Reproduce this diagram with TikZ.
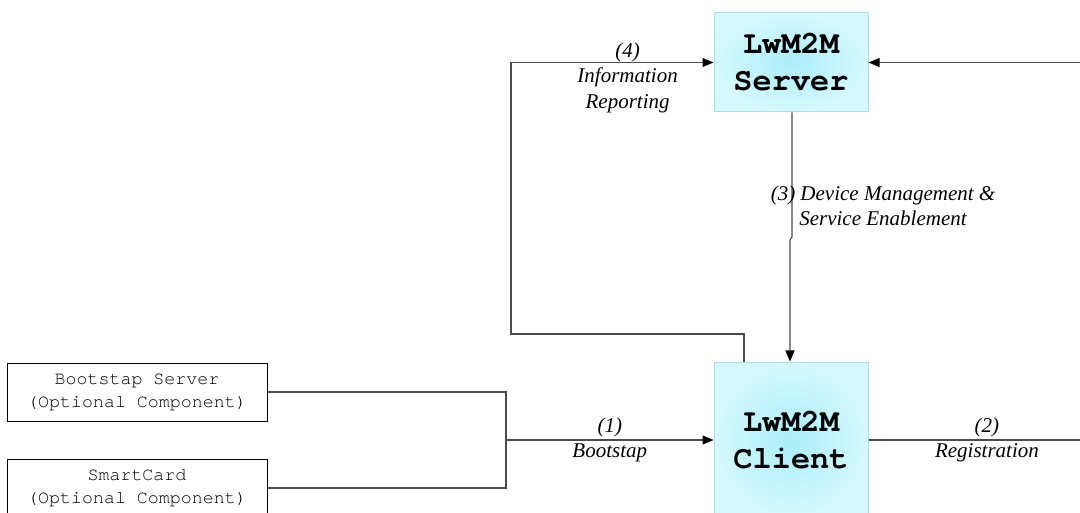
\documentclass[tikz,border=0pt]{standalone}
\usepackage{fontspec}
\setmainfont{Liberation Serif}
\setmonofont{TeX Gyre Cursor}
\usetikzlibrary{arrows.meta,calc}
\definecolor{boxin}{RGB}{170,238,250}
\definecolor{boxout}{RGB}{214,249,255}
\definecolor{boxline}{RGB}{165,225,240}
\definecolor{wirec}{RGB}{75,75,75}
\begin{document}
\begin{tikzpicture}[x=1pt,y=-1pt,
  lwbox/.style={draw=boxline, line width=1pt, inner color=boxin, outer color=boxout,
    minimum width=154pt, minimum height=99pt, inner sep=0pt,
    font=\fontsize{32}{37}\selectfont\ttfamily\bfseries, align=center},
  optbox/.style={draw=black, line width=1pt, fill=white, minimum width=260pt,
    minimum height=58pt, inner sep=0pt,
    font=\fontsize{18.3}{23}\selectfont\ttfamily, align=center},
  wire/.style={draw=wirec, line width=1.1pt},
  arr/.style={wire, -{Triangle[length=11pt,width=9pt,color=black]}},
  lbl/.style={font=\fontsize{21}{25.5}\selectfont\itshape, align=center, inner sep=0pt},
]
\path[use as bounding box] (0,0) rectangle (1080,513);
\clip (0,0) rectangle (1080,513);

\node[lwbox] (server) at (791,62.5) {LwM2M\\Server};
\node[lwbox, minimum height=156pt] (client) at (791,440) {LwM2M\\Client};
\node[optbox] (boot) at (137,392) {Bootstap Server\\(Optional Component)};
\node[optbox] (card) at (137,488) {SmartCard\\(Optional Component)};

\coordinate (join) at (506,440);
\coordinate (regend) at (1080,440);
\coordinate (srvin) at (1080,62.5);
\coordinate (lpA) at (744,334);
\coordinate (lpB) at (511,334);
\coordinate (lpC) at (511,62.5);
\coordinate (jA) at (792,237);
\coordinate (jB) at (790,240);

% bootstrap inputs
\draw[wire] (boot.east) -| (join) |- (card.east);
\draw[arr] (join) -- node[lbl]{(1)\\Bootstap} (client.west);

% registration
\draw[wire] (client.east) -- node[lbl,pos=0.56]{(2)\\Registration} (regend);

% from the right into the server
\draw[arr] (srvin) -- (server.east);

% information reporting loop
\draw[arr] ([xshift=-47pt]client.north) -- (lpA) -- (lpB) -- (lpC)
  -- node[lbl,pos=0.576,yshift=-15pt]{(4)\\Information\\Reporting} (server.west);

% device management
\draw[arr] ([xshift=1pt]server.south) -- node[lbl,pos=0.75,xshift=91pt]{(3) Device Management \&\\Service Enablement} (jA) -- (jB) -- ([xshift=-1pt]client.north);
\end{tikzpicture}
\end{document}
